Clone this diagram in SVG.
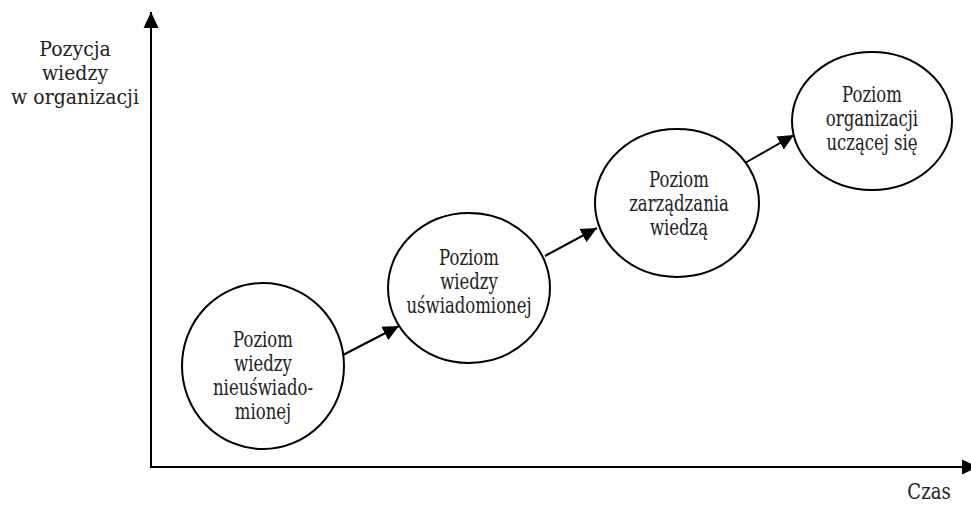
<svg xmlns="http://www.w3.org/2000/svg" width="971" height="505" viewBox="0 0 971 505">
<style>
.n{fill:#fff;stroke:#000;stroke-width:2}
.t{font-family:"DejaVu Serif","Liberation Serif",serif;font-size:22px;fill:#222;text-anchor:middle}
.a{font-size:21px}
.c{stroke:#000;stroke-width:2;fill:none;marker-end:url(#ah)}
</style>
<defs>
<marker id="ah" markerUnits="userSpaceOnUse" markerWidth="16" markerHeight="16" viewBox="0 0 16 16" refX="16" refY="8" orient="auto">
<path d="M0,0.5 L16,8 L0,15.5 Z" fill="#000"/>
</marker>
</defs>
<g id="axes">
<line class="c" x1="151" y1="467" x2="151" y2="12"/>
<line class="c" x1="150" y1="467" x2="978" y2="467"/>
<text class="t a" transform="translate(75,56) scale(0.9,1)">Pozycja</text>
<text class="t a" transform="translate(75,80) scale(0.9,1)">wiedzy</text>
<text class="t a" transform="translate(75,104) scale(0.9,1)">w organizacji</text>
<text class="t" transform="translate(929,499) scale(0.82,1)">Czas</text>
</g>
<g id="connectors">
<line class="c" x1="343" y1="355" x2="399" y2="326"/>
<line class="c" x1="545" y1="256" x2="597" y2="228"/>
<line class="c" x1="745" y1="163" x2="794" y2="135"/>
</g>
<g id="n1">
<ellipse class="n" cx="263" cy="366" rx="81" ry="83"/>
<text class="t" transform="translate(263,347) scale(0.75,1)">Poziom</text>
<text class="t" transform="translate(263,371) scale(0.75,1)">wiedzy</text>
<text class="t" transform="translate(263,395) scale(0.75,1)">nieuświado-</text>
<text class="t" transform="translate(263,419) scale(0.75,1)">mionej</text>
</g>
<g id="n2">
<ellipse class="n" cx="469" cy="288" rx="81" ry="75"/>
<text class="t" transform="translate(469,265) scale(0.75,1)">Poziom</text>
<text class="t" transform="translate(469,289) scale(0.75,1)">wiedzy</text>
<text class="t" transform="translate(469,313) scale(0.75,1)">uświadomionej</text>
</g>
<g id="n3">
<ellipse class="n" cx="677" cy="203" rx="82" ry="74"/>
<text class="t" transform="translate(679,187) scale(0.75,1)">Poziom</text>
<text class="t" transform="translate(679,211) scale(0.75,1)">zarządzania</text>
<text class="t" transform="translate(679,235) scale(0.75,1)">wiedzą</text>
</g>
<g id="n4">
<ellipse class="n" cx="872" cy="121" rx="80" ry="69"/>
<text class="t" transform="translate(872,102) scale(0.75,1)">Poziom</text>
<text class="t" transform="translate(872,126) scale(0.75,1)">organizacji</text>
<text class="t" transform="translate(872,150) scale(0.75,1)">uczącej się</text>
</g>
</svg>
